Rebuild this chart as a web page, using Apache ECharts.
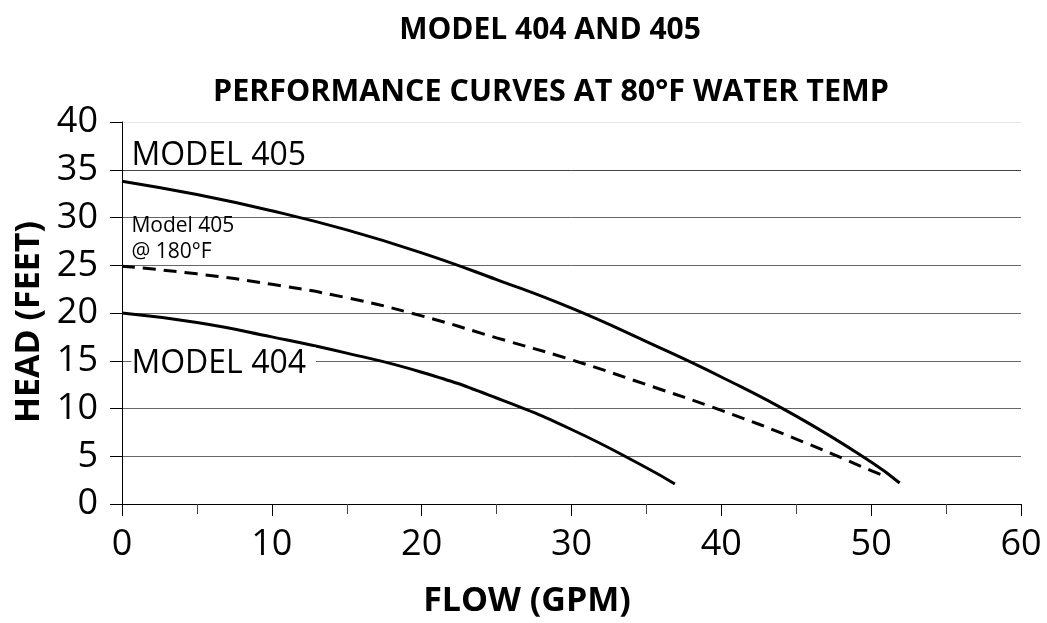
<!DOCTYPE html>
<html>
<head>
<meta charset="utf-8">
<script src="https://cdn.jsdelivr.net/npm/echarts@6/dist/echarts.min.js"></script>
<style>html,body{margin:0;padding:0;background:#fff}#c{width:1047px;height:623px}</style>
</head>
<body>
<div id="c"></div>
<script>
// Data
const flow405 = [0, 5, 10, 15, 20, 25, 30, 35, 40, 45, 50, 51.9];
const head405 = [33.8, 32.4, 30.7, 28.7, 26.3, 23.5, 20.5, 17.0, 13.3, 9.2, 4.4, 2.2];
const flow404 = [0, 5, 10, 15, 20, 25, 30, 35, 36.9];
const head404 = [20, 19.0, 17.5, 15.8, 13.8, 11.1, 7.8, 3.8, 2.1];
const flow405hot = [0, 5, 10, 15, 20, 25, 30, 35, 40, 45, 50, 50.9];
const head405hot = [24.9, 24.1, 23.0, 21.6, 19.7, 17.4, 15.1, 12.5, 9.8, 6.8, 3.5, 2.9];
const xTicks = [0, 10, 20, 30, 40, 50, 60];
const yTicks = [0, 5, 10, 15, 20, 25, 30, 35, 40];
const annoX = [0.63, 0.63, 0.63];
const annoY = [36.4, 14.7, 27.7];
const annoText = ['MODEL 405', 'MODEL 404', 'Model 405\n@ 180°F'];

const FONT = '"Open Sans", "DejaVu Sans", sans-serif';
const zip = (a, b) => a.map((v, i) => [v, b[i]]);

const chart = echarts.init(document.getElementById('c'), null, {renderer: 'canvas'});
const annoStyles = [
  {fontSize: 32},
  {fontSize: 32, backgroundColor: '#fff', padding: [0, 10, 0, 0]},
  {fontSize: 21, lineHeight: 26}
];
chart.setOption({
  animation: false,
  backgroundColor: '#fff',
  title: [
    {text: 'MODEL 404 AND 405', left: 545, textAlign: 'center', top: 10,
     textStyle: {fontFamily: FONT, fontWeight: 'bold', fontSize: 30, color: '#000'}},
    {text: 'PERFORMANCE CURVES AT 80°F WATER TEMP', left: 546, textAlign: 'center', top: 72,
     textStyle: {fontFamily: FONT, fontWeight: 'bold', fontSize: 30.5, color: '#000'}}
  ],
  grid: {left: 122, right: 26, top: 122, bottom: 118, containLabel: false},
  xAxis: {
    type: 'value', min: xTicks[0], max: xTicks[xTicks.length - 1], interval: 10,
    name: 'FLOW (GPM)', nameLocation: 'middle', nameGap: 80,
    nameTextStyle: {fontFamily: FONT, fontWeight: 'bold', fontSize: 34, color: '#000', padding: [0, 89, 0, 0]},
    axisLine: {show: true, lineStyle: {color: '#000', width: 1}},
    axisTick: {show: true, length: 12, lineStyle: {color: '#000'}},
    minorTick: {show: true, splitNumber: 2, length: 10, lineStyle: {color: '#444'}},
    axisLabel: {fontFamily: FONT, fontSize: 36, color: '#000', margin: 23},
    splitLine: {show: false}
  },
  yAxis: {
    type: 'value', min: yTicks[0], max: yTicks[yTicks.length - 1], interval: 5,
    name: 'HEAD (FEET)', nameLocation: 'middle', nameGap: 76,
    nameTextStyle: {fontFamily: FONT, fontWeight: 'bold', fontSize: 34, color: '#000', padding: [0, 18, 0, 0]},
    axisLine: {show: true, lineStyle: {color: '#000', width: 1}},
    axisTick: {show: true, length: 12, lineStyle: {color: '#000'}},
    axisLabel: {fontFamily: FONT, fontSize: 36, color: '#000', margin: 24},
    splitLine: {show: true, lineStyle: {color: ['#000', '#666', '#666', '#666', '#666', '#666', '#666', '#444', '#e6e6e6'], width: 1}}
  },
  series: [
    {type: 'line', data: zip(flow405, head405), smooth: true, showSymbol: false, symbol: 'none',
     lineStyle: {color: '#000', width: 3}, z: 3},
    {type: 'line', data: zip(flow404, head404), smooth: true, showSymbol: false, symbol: 'none',
     lineStyle: {color: '#000', width: 3}, z: 3},
    {type: 'line', data: zip(flow405hot, head405hot), smooth: true, showSymbol: false, symbol: 'none',
     lineStyle: {color: '#000', width: 3, type: [13, 8]}, z: 3},
    {type: 'scatter', silent: true, symbolSize: 0, z: 4, itemStyle: {opacity: 1},
     data: annoX.map((x, i) => ({
       value: [x, annoY[i]],
       label: Object.assign({show: true, position: 'right', distance: 0, formatter: annoText[i],
         fontFamily: FONT, color: '#000', opacity: 1}, annoStyles[i])
     }))}
  ]
});
</script>
</body>
</html>
